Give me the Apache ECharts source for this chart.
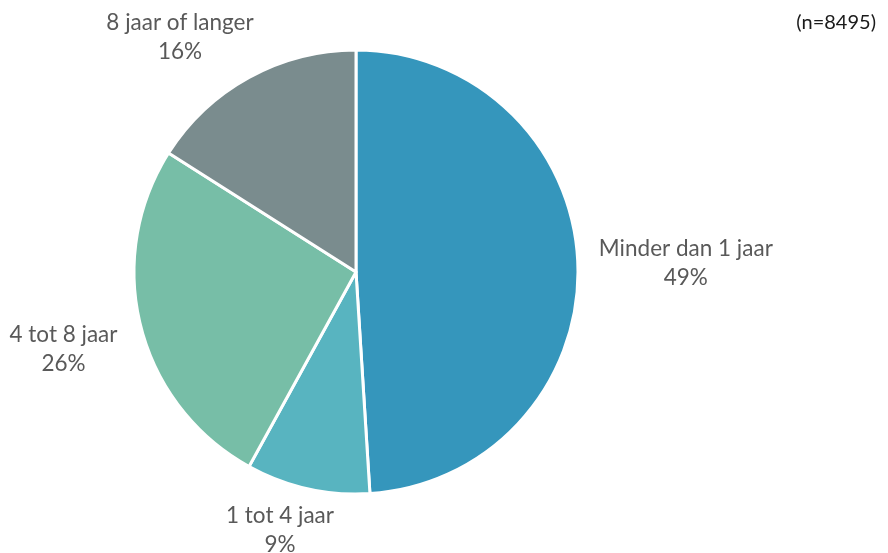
<!DOCTYPE html>
<html>
<head>
<meta charset="utf-8">
<script src="https://cdn.jsdelivr.net/npm/echarts@6/dist/echarts.min.js"></script>
<style>
html, body { margin: 0; padding: 0; background: #fff; }
#chart { width: 888px; height: 553px; }
</style>
</head>
<body>
<div id="chart"></div>
<script>
// data
var categories = ['Minder dan 1 jaar', '1 tot 4 jaar', '4 tot 8 jaar', '8 jaar of langer'];
var shares = [49, 9, 26, 16];
var sliceColors = ['#3596bc', '#58b4c0', '#77bea7', '#7a8c8e'];
var sampleNote = '(n=8495)';

var W = 888, H = 553;
var CX = 356, CY = 272, R = 222;
var GAP = 20;      // afstand label tot taart
var SLIDE_GAP = 8; // als label tegen de rand gedrukt wordt

var total = shares.reduce(function(a, b) { return a + b; }, 0);

// hoek midden van de taartpunt, met de klok mee vanaf boven
function midAngle(i) {
	var before = 0;
	for (var k = 0; k < i; k++) before += shares[k];
	return (before + shares[i] / 2) / total * Math.PI * 2;
}

function clearance(x, y, w, h) {
	var dx = Math.max(CX - (x + w / 2), (x - w / 2) - CX, 0);
	var dy = Math.max(CY - (y + h / 2), (y - h / 2) - CY, 0);
	return Math.sqrt(dx * dx + dy * dy);
}

// labels buiten de taart, zoals Excel ze zet
function placeLabel(params) {
	var w = params.labelRect.width, h = params.labelRect.height;
	var a = midAngle(params.dataIndex);
	var ux = Math.sin(a), uy = -Math.cos(a);
	var d = 0;
	while (clearance(CX + ux * d, CY + uy * d, w, h) < R + GAP && d < 1000) d += 1;
	var x = CX + ux * d, y = CY + uy * d + 2;
	var top = 8, bottom = H + 6;
	if (y - h / 2 < top || y + h / 2 > bottom) {
		y = Math.min(Math.max(y, top + h / 2), bottom - h / 2);
		x = CX;
		var sx = ux < 0 ? -1 : 1;
		while (clearance(x, y, w, h) < R + SLIDE_GAP && Math.abs(x - CX) < 1000) x += sx;
	}
	return { x: x, y: y, align: 'center', verticalAlign: 'middle' };
}

var chart = echarts.init(document.getElementById('chart'));

var option = {
	backgroundColor: '#fff',
	animation: false,
	title: {
		text: sampleNote,
		right: 7,
		top: 8,
		textStyle: {
			fontFamily: 'Lato',
			fontSize: 20,
			fontWeight: 'normal',
			color: '#1a1a1a'
		}
	},
	series: [ {
		type: 'pie',
		center: [ CX, CY ],
		radius: [ 0, R ],
		startAngle: 90,
		clockwise: true,
		avoidLabelOverlap: false,
		color: sliceColors,
		itemStyle: {
			borderColor: '#fff',
			borderWidth: 3
		},
		label: {
			show: true,
			position: 'outside',
			formatter: '{b}\n{c}%',
			fontFamily: 'Lato',
			fontSize: 22.5,
			lineHeight: 29,
			color: '#595959'
		},
		labelLine: { show: false },
		labelLayout: placeLabel,
		emphasis: { disabled: true },
		data: categories.map(function(name, i) {
			return { name: name, value: shares[i] };
		})
	} ]
};

chart.setOption(option);
</script>
</body>
</html>
